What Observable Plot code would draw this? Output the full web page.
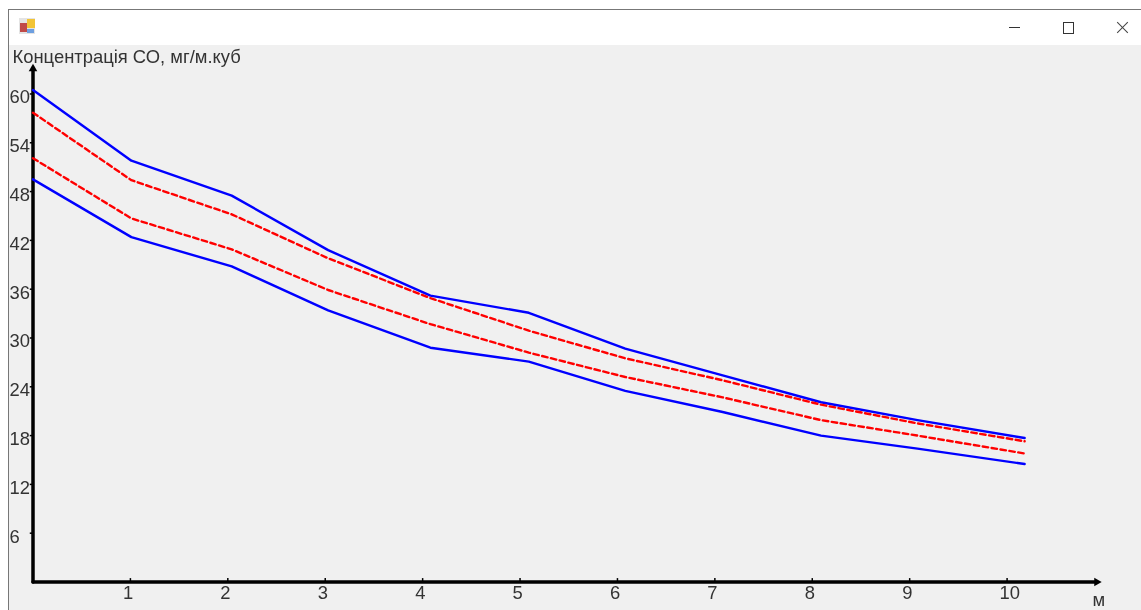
<!DOCTYPE html>
<html>
<head>
<meta charset="utf-8">
<script src="https://cdn.jsdelivr.net/npm/d3@7"></script>
<script src="https://cdn.jsdelivr.net/npm/@observablehq/plot@0.6"></script>
<style>
html,body{margin:0;padding:0;background:#fff;overflow:hidden}
#win{position:relative;width:1141px;height:610px;overflow:hidden}
#frame{position:absolute;left:8px;top:9px;right:-2px;bottom:-2px;border:1px solid #777;background:#fff}
#panel{position:absolute;left:9px;top:45px;right:0;bottom:0;background:#f0f0f0}
#chart{position:absolute;left:0;top:0;filter:blur(0.45px)}
#chart svg{background:transparent!important;display:block}
.c{position:absolute}
</style>
</head>
<body>
<div id="win">
  <div id="frame"></div>
  <div id="panel"></div>
  <div class="c" style="left:19px;top:18px;width:16px;height:16px;background:#e4e4e4"></div>
  <div class="c" style="left:27px;top:19px;width:8px;height:9px;background:#f2c436"></div>
  <div class="c" style="left:20px;top:23px;width:7px;height:9px;background:#c04a48"></div>
  <div class="c" style="left:27px;top:29px;width:7px;height:4px;background:#6d9fe0"></div>
  <div class="c" style="left:1009px;top:27px;width:11px;height:1px;background:#333"></div>
  <div class="c" style="left:1063px;top:22px;width:9px;height:10px;border:1px solid #333"></div>
  <div class="c" style="left:1115px;top:27px;width:15px;height:1px;background:#444;transform:rotate(45deg)"></div>
  <div class="c" style="left:1115px;top:27px;width:15px;height:1px;background:#444;transform:rotate(-45deg)"></div>
  <div id="chart"></div>
</div>
<script>
const yTitle = "Концентрація СО, мг/м.куб";
const xUnit = "м";
const xTicks = [1,2,3,4,5,6,7,8,9,10];
const yTicks = [6,12,18,24,30,36,42,48,54,60];
const distance = [0,1.01,2.04,3.03,4.08,5.09,6.08,7.08,8.09,9.08,10.18];
const upperBlue = [60.5,51.8,47.5,40.8,35.2,33.1,28.7,25.4,22.1,19.9,17.7];
const upperRed  = [57.7,49.4,45.2,39.8,34.9,30.9,27.5,24.8,21.8,19.5,17.3];
const lowerRed  = [52.1,44.7,40.9,35.9,31.7,28.2,25.2,22.7,19.9,18.0,15.8];
const lowerBlue = [49.5,42.4,38.8,33.4,28.8,27.1,23.5,20.9,18.0,16.4,14.5];
const xAxisEnd = 10.92, yAxisEnd = 63.1;

const row = ys => distance.map((d,i)=>({d, v:ys[i]}));
const font = "Liberation Sans, Arial, sans-serif";
const ink = "#333";

const plot = Plot.plot({
  width:1141, height:610,
  marginLeft:32.5, marginRight:37, marginTop:65, marginBottom:28.5,
  style:{background:"transparent", fontFamily:font, fontSize:"18px", color:ink},
  x:{domain:[0,11], axis:null},
  y:{domain:[0,63.5], axis:null},
  marks:[
    Plot.text(xTicks,{x:d=>d, frameAnchor:"bottom", lineAnchor:"middle", textAnchor:"start", dx:-7.5, dy:11, fontSize:18.4, fill:ink, text:d=>String(d)}),
    Plot.text(yTicks,{y:d=>d, frameAnchor:"left", textAnchor:"start", dx:-23.5, dy:3.5, fontSize:18.4, fill:ink, text:d=>String(d)}),
    Plot.ruleX(xTicks,{x:d=>d, y1:0, y2:0.42, stroke:"#000", strokeWidth:1.5}),
    Plot.ruleY(yTicks,{y:d=>d, x1:0, x2:-0.028, stroke:"#000", strokeWidth:1.5}),
    Plot.line([[0,0],[xAxisEnd,0]],{x:"0", y:"1", stroke:"#000", strokeWidth:3.5}),
    Plot.line([[0,0],[0,yAxisEnd]],{x:"0", y:"1", stroke:"#000", strokeWidth:3.5}),
    Plot.dot([[xAxisEnd,0]],{x:"0", y:"1", symbol:"triangle", r:3.2, fill:"#000", rotate:90}),
    Plot.dot([[0,yAxisEnd]],{x:"0", y:"1", symbol:"triangle", r:3.2, fill:"#000"}),
    Plot.line(row(upperBlue),{x:"d", y:"v", stroke:"#0000ff", strokeWidth:2.4}),
    Plot.line(row(lowerBlue),{x:"d", y:"v", stroke:"#0000ff", strokeWidth:2.4}),
    Plot.line(row(upperRed),{x:"d", y:"v", stroke:"#ff0000", strokeWidth:2.4, strokeDasharray:"5.5,3.5"}),
    Plot.line(row(lowerRed),{x:"d", y:"v", stroke:"#ff0000", strokeWidth:2.4, strokeDasharray:"5.5,3.5"}),
    Plot.text([yTitle],{frameAnchor:"top-left", dx:-20.5, dy:-8, fontSize:18.4, fill:ink, lineAnchor:"middle", text:d=>d}),
    Plot.text([xUnit],{x:[xAxisEnd], y:[0], dy:18, dx:2, fontSize:18.4, fill:ink, text:d=>d})
  ]
});
document.getElementById("chart").appendChild(plot);
</script>
</body>
</html>
